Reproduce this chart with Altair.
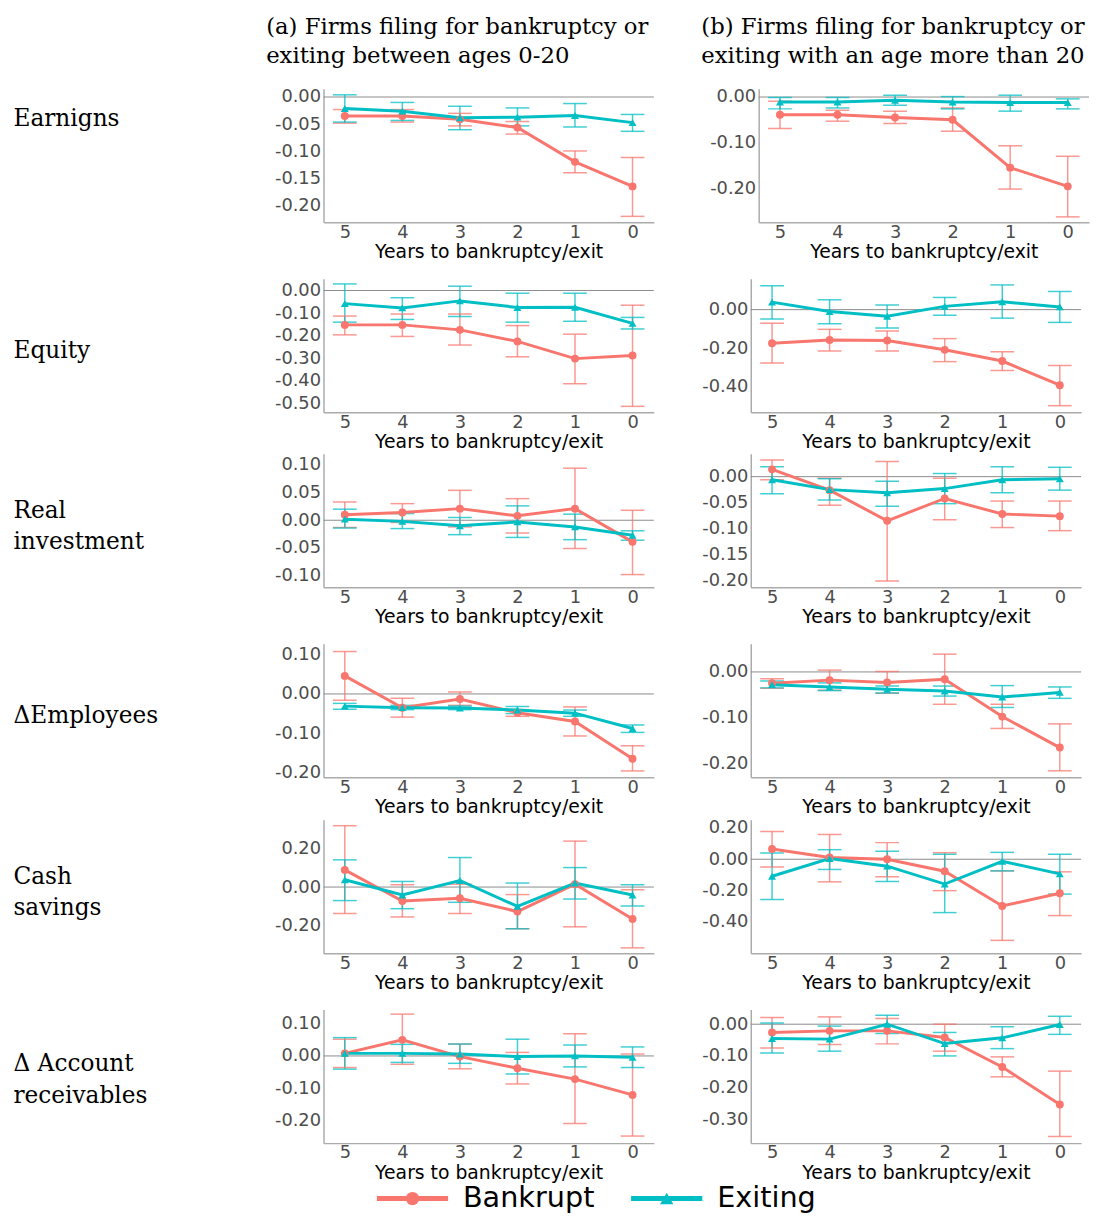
import altair as alt
import pandas as pd

YEARS = [5, 4, 3, 2, 1, 0]
SERIES = ["Bankrupt", "Exiting"]
COLORS = ["#F8766D", "#00BFC4"]
SHAPES = ["circle", "triangle-up"]

ROW_LABELS = [["Earnigns"], ["Equity"], ["Real", "investment"], ["ΔEmployees"],
              ["Cash", "savings"], ["Δ Account", "receivables"]]
COL_TITLES = [["(a) Firms filing for bankruptcy or", "exiting between ages 0-20"],
              ["(b) Firms filing for bankruptcy or", "exiting with an age more than 20"]]
X_TITLE = "Years to bankruptcy/exit"

# ---- Earnings ----
earn_a_bk_est = [-0.035, -0.035, -0.041, -0.056, -0.119, -0.164]
earn_a_bk_lo = [-0.048, -0.046, -0.053, -0.068, -0.139, -0.219]
earn_a_bk_hi = [-0.023, -0.023, -0.030, -0.045, -0.099, -0.111]
earn_a_ex_est = [-0.021, -0.026, -0.038, -0.037, -0.034, -0.047]
earn_a_ex_lo = [-0.046, -0.043, -0.060, -0.053, -0.055, -0.063]
earn_a_ex_hi = [0.004, -0.010, -0.017, -0.020, -0.012, -0.032]

earn_b_bk_est = [-0.039, -0.039, -0.045, -0.050, -0.155, -0.196]
earn_b_bk_lo = [-0.069, -0.053, -0.058, -0.075, -0.202, -0.263]
earn_b_bk_hi = [-0.009, -0.029, -0.031, -0.024, -0.107, -0.130]
earn_b_ex_est = [-0.011, -0.011, -0.007, -0.011, -0.012, -0.012]
earn_b_ex_lo = [-0.026, -0.024, -0.018, -0.026, -0.031, -0.026]
earn_b_ex_hi = [-0.001, -0.001, 0.004, 0.001, 0.004, -0.004]

# ---- Equity ----
eq_a_bk_est = [-0.152, -0.152, -0.174, -0.225, -0.301, -0.287]
eq_a_bk_lo = [-0.196, -0.203, -0.241, -0.293, -0.412, -0.512]
eq_a_bk_hi = [-0.113, -0.104, -0.104, -0.155, -0.193, -0.065]
eq_a_ex_est = [-0.058, -0.077, -0.046, -0.075, -0.074, -0.145]
eq_a_ex_lo = [-0.140, -0.128, -0.115, -0.140, -0.136, -0.170]
eq_a_ex_hi = [0.029, -0.032, 0.019, -0.012, -0.012, -0.119]

eq_b_bk_est = [-0.174, -0.157, -0.160, -0.208, -0.266, -0.391]
eq_b_bk_lo = [-0.276, -0.214, -0.214, -0.269, -0.315, -0.497]
eq_b_bk_hi = [-0.071, -0.102, -0.111, -0.150, -0.218, -0.289]
eq_b_ex_est = [0.039, -0.010, -0.034, 0.017, 0.041, 0.014]
eq_b_ex_lo = [-0.048, -0.073, -0.095, -0.029, -0.044, -0.066]
eq_b_ex_hi = [0.124, 0.051, 0.024, 0.063, 0.128, 0.094]

# ---- Real investment ----
inv_a_bk_est = [0.010, 0.014, 0.021, 0.008, 0.021, -0.039]
inv_a_bk_lo = [-0.013, -0.004, -0.012, -0.023, -0.051, -0.098]
inv_a_bk_hi = [0.033, 0.030, 0.054, 0.039, 0.094, 0.018]
inv_a_ex_est = [0.002, -0.002, -0.010, -0.003, -0.012, -0.027]
inv_a_ex_lo = [-0.014, -0.015, -0.026, -0.031, -0.035, -0.036]
inv_a_ex_hi = [0.020, 0.012, 0.005, 0.026, 0.011, -0.019]

inv_b_bk_est = [0.014, -0.026, -0.085, -0.042, -0.072, -0.076]
inv_b_bk_lo = [-0.006, -0.055, -0.201, -0.083, -0.098, -0.104]
inv_b_bk_hi = [0.032, -0.003, 0.029, -0.003, -0.047, -0.047]
inv_b_ex_est = [-0.006, -0.025, -0.031, -0.023, -0.006, -0.004]
inv_b_ex_lo = [-0.033, -0.045, -0.057, -0.052, -0.031, -0.026]
inv_b_ex_hi = [0.019, -0.004, -0.009, 0.006, 0.019, 0.018]

# ---- Delta employees ----
emp_a_bk_est = [0.046, -0.035, -0.013, -0.048, -0.070, -0.165]
emp_a_bk_lo = [-0.016, -0.059, -0.029, -0.057, -0.107, -0.196]
emp_a_bk_hi = [0.108, -0.011, 0.005, -0.040, -0.033, -0.132]
emp_a_ex_est = [-0.031, -0.035, -0.036, -0.041, -0.049, -0.088]
emp_a_ex_lo = [-0.039, -0.040, -0.040, -0.050, -0.057, -0.098]
emp_a_ex_hi = [-0.024, -0.029, -0.031, -0.032, -0.041, -0.079]

emp_b_bk_est = [-0.025, -0.018, -0.023, -0.016, -0.098, -0.166]
emp_b_bk_lo = [-0.036, -0.040, -0.047, -0.071, -0.124, -0.217]
emp_b_bk_hi = [-0.015, 0.004, 0.001, 0.039, -0.071, -0.114]
emp_b_ex_est = [-0.028, -0.033, -0.038, -0.042, -0.055, -0.045]
emp_b_ex_lo = [-0.035, -0.041, -0.046, -0.053, -0.078, -0.058]
emp_b_ex_hi = [-0.020, -0.024, -0.031, -0.031, -0.030, -0.033]

# ---- Cash savings ----
cash_a_bk_est = [0.089, -0.072, -0.058, -0.127, 0.015, -0.165]
cash_a_bk_lo = [-0.137, -0.155, -0.137, -0.216, -0.206, -0.315]
cash_a_bk_hi = [0.318, 0.012, 0.015, -0.039, 0.238, -0.014]
cash_a_ex_est = [0.038, -0.041, 0.034, -0.100, 0.021, -0.041]
cash_a_ex_lo = [-0.070, -0.112, -0.079, -0.216, -0.062, -0.098]
cash_a_ex_hi = [0.141, 0.029, 0.153, 0.021, 0.101, 0.012]

cash_b_bk_est = [0.065, 0.011, 0.000, -0.076, -0.298, -0.217]
cash_b_bk_lo = [-0.049, -0.144, -0.112, -0.200, -0.517, -0.359]
cash_b_bk_hi = [0.177, 0.158, 0.106, 0.042, -0.074, -0.080]
cash_b_ex_est = [-0.108, 0.004, -0.044, -0.158, -0.013, -0.093]
cash_b_ex_lo = [-0.256, -0.065, -0.141, -0.340, -0.074, -0.222]
cash_b_ex_hi = [0.040, 0.061, 0.051, 0.032, 0.044, 0.032]

# ---- Delta account receivables ----
ar_a_bk_est = [0.008, 0.050, -0.002, -0.038, -0.072, -0.121]
ar_a_bk_lo = [-0.036, -0.026, -0.040, -0.087, -0.210, -0.249]
ar_a_bk_hi = [0.052, 0.130, 0.037, 0.011, 0.069, 0.006]
ar_a_ex_est = [0.008, 0.008, 0.006, -0.002, 0.000, -0.004]
ar_a_ex_lo = [-0.041, -0.020, -0.023, -0.056, -0.034, -0.036]
ar_a_ex_hi = [0.057, 0.036, 0.037, 0.052, 0.034, 0.028]

ar_b_bk_est = [-0.026, -0.021, -0.021, -0.042, -0.135, -0.253]
ar_b_bk_lo = [-0.075, -0.064, -0.062, -0.085, -0.166, -0.354]
ar_b_bk_hi = [0.021, 0.023, 0.018, 0.000, -0.103, -0.148]
ar_b_ex_est = [-0.045, -0.047, 0.000, -0.061, -0.043, -0.001]
ar_b_ex_lo = [-0.091, -0.085, -0.029, -0.100, -0.077, -0.032]
ar_b_ex_hi = [0.004, -0.006, 0.028, -0.026, -0.008, 0.025]

# y-axis domains and tick labels per panel
Y_DOMAINS = {
    "earn_a": [-0.230, 0.015], "earn_b": [-0.275, 0.018],
    "eq_a": [-0.538, 0.052], "eq_b": [-0.531, 0.160],
    "inv_a": [-0.121, 0.120], "inv_b": [-0.213, 0.044],
    "emp_a": [-0.212, 0.128], "emp_b": [-0.231, 0.062],
    "cash_a": [-0.343, 0.349], "cash_b": [-0.599, 0.252],
    "ar_a": [-0.271, 0.144], "ar_b": [-0.375, 0.046],
}
Y_TICKS = {
    "earn_a": [0.0, -0.05, -0.10, -0.15, -0.20], "earn_b": [0.0, -0.10, -0.20],
    "eq_a": [0.0, -0.1, -0.2, -0.3, -0.4, -0.5], "eq_b": [0.0, -0.2, -0.4],
    "inv_a": [0.10, 0.05, 0.0, -0.05, -0.10], "inv_b": [0.0, -0.05, -0.10, -0.15, -0.20],
    "emp_a": [0.10, 0.0, -0.10, -0.20], "emp_b": [0.0, -0.10, -0.20],
    "cash_a": [0.20, 0.0, -0.20], "cash_b": [0.20, 0.0, -0.20, -0.40],
    "ar_a": [0.10, 0.0, -0.10, -0.20], "ar_b": [0.0, -0.10, -0.20, -0.30],
}

SERIF = "DejaVu Serif"
SANS = "DejaVu Sans"
PW, PH = 334, 135

color_enc = alt.Color("series:N", scale=alt.Scale(domain=SERIES, range=COLORS), legend=None)
shape_enc = alt.Shape("series:N", scale=alt.Scale(domain=SERIES, range=SHAPES), legend=None)


def panel(key, vals, row_label=None, label_y=73, col_title=None):
    est_b, lo_b, hi_b, est_e, lo_e, hi_e = vals
    df = pd.DataFrame({
        "t": YEARS + YEARS,
        "series": ["Bankrupt"] * 6 + ["Exiting"] * 6,
        "est": est_b + est_e,
        "lo": lo_b + lo_e,
        "hi": hi_b + hi_e,
    })
    xs = alt.Scale(domain=[-0.37, 5.37], reverse=True, nice=False, zero=False)
    xax = alt.Axis(values=YEARS, format="d", title=X_TITLE)
    ys = alt.Scale(domain=Y_DOMAINS[key], nice=False, zero=False)
    lab = "replace(format(datum.value, '.2f'), '\u2212', '-')"
    if row_label is not None:
        yax = alt.Axis(values=Y_TICKS[key], labelExpr=lab, title=row_label,
                       titleAngle=0, titleX=-314, titleY=label_y, titleAlign="left",
                       titleBaseline="middle", titleFont=SERIF, titleFontSize=23.5,
                       titleFontWeight="normal", titleColor="black", titleLineHeight=32)
    else:
        yax = alt.Axis(values=Y_TICKS[key], labelExpr=lab, title=None)
    x = alt.X("t:Q", scale=xs, axis=xax)
    base = alt.Chart(df)
    zero = alt.Chart(pd.DataFrame({"z": [0.0]})).mark_rule(
        color="#8C8C8C", strokeWidth=1).encode(y=alt.Y("z:Q", scale=ys, axis=yax))
    err = base.mark_rule(strokeWidth=1.5, opacity=0.75).encode(
        x=x, y=alt.Y("lo:Q", scale=ys, axis=yax), y2="hi:Q", color=color_enc)
    caps = base.transform_fold(["lo", "hi"], as_=["k", "v"]).mark_tick(
        orient="horizontal", size=24, thickness=1.5, opacity=0.75).encode(
        x=x, y=alt.Y("v:Q", scale=ys, axis=yax), color=color_enc)
    line = base.mark_line(strokeWidth=3).encode(
        x=x, y=alt.Y("est:Q", scale=ys, axis=yax), color=color_enc)
    pts = base.mark_point(filled=True, size=64, opacity=1).encode(
        x=x, y=alt.Y("est:Q", scale=ys, axis=yax), color=color_enc, shape=shape_enc)
    ch = alt.layer(zero, err, caps, line, pts).properties(width=PW, height=PH)
    if col_title is not None:
        ch = ch.properties(title=alt.TitleParams(
            text=col_title, anchor="start", frame="group", dx=-58, offset=20,
            font=SERIF, fontSize=23, fontWeight="normal", lineHeight=30, color="black"))
    return ch


def row(i, ka, va, kb, vb, label_y=73, titles=False):
    a = panel(ka, va, row_label=ROW_LABELS[i], label_y=label_y,
              col_title=COL_TITLES[0] if titles else None)
    b = panel(kb, vb, col_title=COL_TITLES[1] if titles else None)
    return alt.hconcat(a, b, spacing=46)


r1 = row(0, "earn_a", [earn_a_bk_est, earn_a_bk_lo, earn_a_bk_hi, earn_a_ex_est, earn_a_ex_lo, earn_a_ex_hi],
         "earn_b", [earn_b_bk_est, earn_b_bk_lo, earn_b_bk_hi, earn_b_ex_est, earn_b_ex_lo, earn_b_ex_hi],
         label_y=30, titles=True)
r2 = row(1, "eq_a", [eq_a_bk_est, eq_a_bk_lo, eq_a_bk_hi, eq_a_ex_est, eq_a_ex_lo, eq_a_ex_hi],
         "eq_b", [eq_b_bk_est, eq_b_bk_lo, eq_b_bk_hi, eq_b_ex_est, eq_b_ex_lo, eq_b_ex_hi])
r3 = row(2, "inv_a", [inv_a_bk_est, inv_a_bk_lo, inv_a_bk_hi, inv_a_ex_est, inv_a_ex_lo, inv_a_ex_hi],
         "inv_b", [inv_b_bk_est, inv_b_bk_lo, inv_b_bk_hi, inv_b_ex_est, inv_b_ex_lo, inv_b_ex_hi],
         label_y=57)
r4 = row(3, "emp_a", [emp_a_bk_est, emp_a_bk_lo, emp_a_bk_hi, emp_a_ex_est, emp_a_ex_lo, emp_a_ex_hi],
         "emp_b", [emp_b_bk_est, emp_b_bk_lo, emp_b_bk_hi, emp_b_ex_est, emp_b_ex_lo, emp_b_ex_hi])
r5 = row(4, "cash_a", [cash_a_bk_est, cash_a_bk_lo, cash_a_bk_hi, cash_a_ex_est, cash_a_ex_lo, cash_a_ex_hi],
         "cash_b", [cash_b_bk_est, cash_b_bk_lo, cash_b_bk_hi, cash_b_ex_est, cash_b_ex_lo, cash_b_ex_hi],
         label_y=57)
r6 = row(5, "ar_a", [ar_a_bk_est, ar_a_bk_lo, ar_a_bk_hi, ar_a_ex_est, ar_a_ex_lo, ar_a_ex_hi],
         "ar_b", [ar_b_bk_est, ar_b_bk_lo, ar_b_bk_hi, ar_b_ex_est, ar_b_ex_lo, ar_b_ex_hi],
         label_y=55)

# bottom legend drawn from the series list
leg_df = pd.DataFrame({"series": SERIES})
lx = alt.X("series:N", scale=alt.Scale(type="point", domain=SERIES, range=[90, 347], padding=0),
           axis=None)
seg = alt.Chart(leg_df).mark_point(
    shape="M-1,-0.07L1,-0.07L1,0.07L-1,0.07Z", size=5184, filled=True, opacity=1
).encode(x=lx, color=color_enc)
mk = alt.Chart(leg_df).mark_point(filled=True, size=180, opacity=1).encode(
    x=lx, color=color_enc, shape=shape_enc)
tx = alt.Chart(leg_df).mark_text(
    align="left", baseline="middle", dx=51, fontSize=29, font=SANS, color="black"
).encode(x=lx, text="series:N")
legend = alt.layer(seg, mk, tx).properties(width=520, height=22)

chart = alt.vconcat(
    r1,
    alt.vconcat(r2, r3, spacing=0),
    alt.vconcat(r4, r5, spacing=0),
    alt.vconcat(r6, legend, spacing=0),
    spacing=15,
).properties(
    padding={"left": 4, "right": 0, "top": 0, "bottom": 0}
).configure_view(
    stroke="transparent"
).configure_axis(
    grid=False, ticks=False, tickSize=0, domainColor="#ABABAB", domainWidth=1.5,
    labelFont=SANS, labelFontSize=18, labelColor="#4D4D4D", labelPadding=3,
    titleFont=SANS, titleFontSize=19, titleFontWeight="normal", titleColor="black",
    titlePadding=2
).configure_axisX(labelPadding=1)

chart.save("out.html", embed_options={"renderer": "svg", "actions": False})
